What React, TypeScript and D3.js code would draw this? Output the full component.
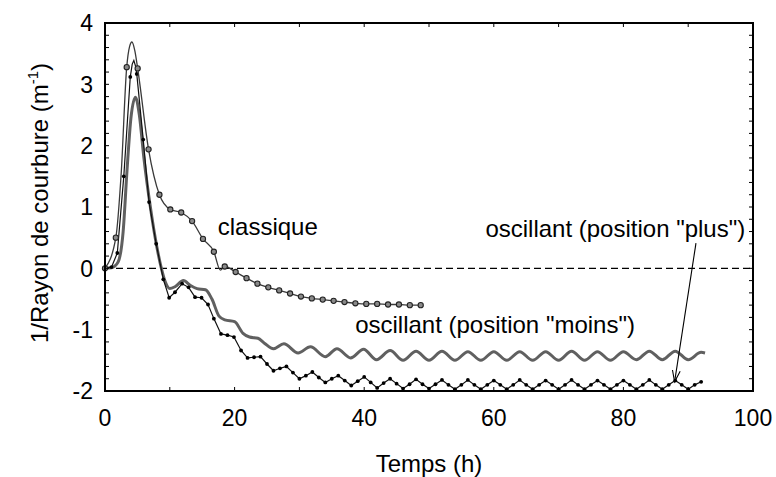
import { useEffect } from "react";
import * as d3 from "d3";

// "classique" : marqueurs ronds (t, 1/R)
const classiqueMarks: [number, number][] = [
  [0, 0], [1.67, 0.5], [3.35, 3.28], [5.04, 3.26], [6.72, 1.94], [8.4, 1.2],
  [10.08, 0.96], [11.76, 0.91], [13.44, 0.77], [15.12, 0.48], [16.8, 0.27],
  [18.48, 0.03], [20.16, -0.06], [21.84, -0.16], [23.52, -0.25], [25.2, -0.31],
  [26.88, -0.36], [28.56, -0.41], [30.24, -0.46], [31.92, -0.49], [33.6, -0.51],
  [35.28, -0.53], [36.96, -0.55], [38.64, -0.57], [40.32, -0.58], [42.0, -0.58],
  [43.68, -0.59], [45.36, -0.59], [47.04, -0.6], [48.72, -0.6],
];
// points du trace sans marqueur (sommet, petit creux)
const classiqueExtra: [number, number][] = [
  [2.5, 1.55], [3.8, 3.62], [4.15, 3.69], [4.6, 3.55], [17.8, -0.03],
];

// oscillant (position "plus") : points noirs
const plusDots: [number, number][] = [
  [0, 0], [1, 0.02], [1.9, 0.25], [2.9, 1.5], [3.9, 3.12], [4.9, 3.17],
  [5.9, 2.1], [6.8, 1.08], [7.9, 0.4], [9.0, -0.18], [9.9, -0.48], [10.8, -0.39],
  [11.9, -0.25], [12.9, -0.31], [13.9, -0.47], [14.9, -0.48], [15.9, -0.59],
  [16.8, -0.82], [17.9, -1.07], [18.9, -1.09], [19.9, -1.12], [21.0, -1.34],
  [22, -1.46], [23, -1.45], [24, -1.44], [25, -1.56], [26, -1.67], [27, -1.63],
  [28, -1.6], [29, -1.7], [30, -1.8], [31, -1.75], [32, -1.69], [33, -1.78],
  [34, -1.86], [35, -1.8], [36, -1.75], [37, -1.83], [38, -1.91], [39, -1.84],
  [40, -1.77], [41, -1.86], [42, -1.95], [43, -1.87], [44, -1.8], [45, -1.88],
  [46, -1.96], [47, -1.89], [48, -1.81], [49, -1.89], [50, -1.96], [51, -1.89],
  [52, -1.82], [53, -1.9], [54, -1.97], [55, -1.9], [56, -1.82], [57, -1.9],
  [58, -1.97], [59, -1.9], [60, -1.83], [61, -1.9], [62, -1.97], [63, -1.9],
  [64, -1.82], [65, -1.9], [66, -1.97], [67, -1.9], [68, -1.83], [69, -1.9],
  [70, -1.97], [71, -1.9], [72, -1.82], [73, -1.9], [74, -1.97], [75, -1.9],
  [76, -1.83], [77, -1.9], [78, -1.97], [79, -1.9], [80, -1.83], [81, -1.9],
  [82, -1.97], [83, -1.9], [84, -1.82], [85, -1.9], [86, -1.97], [87, -1.9],
  [88, -1.83], [89, -1.9], [90, -1.97], [91, -1.9], [92, -1.85],
];
const plusExtra: [number, number][] = [
  [4.2, 3.33], [4.45, 3.39], [4.7, 3.3],
];

// oscillant (position "moins") : trait gris epais
const moinsLine: [number, number][] = [
  [0, 0], [1, 0.01], [2, 0.1], [2.8, 0.6], [3.4, 1.6], [4.0, 2.45], [4.7, 2.79],
  [5.3, 2.5], [6.0, 1.8], [7.0, 1.0], [8.0, 0.35], [8.7, 0.0], [9.3, -0.22],
  [10.0, -0.33], [10.8, -0.3], [12.1, -0.2], [13.2, -0.28], [14.2, -0.33],
  [15.5, -0.35], [16.5, -0.5], [17.6, -0.78], [18.5, -0.84], [20.0, -0.87],
  [21.3, -1.06], [22.3, -1.12], [23.6, -1.14], [24.6, -1.22], [26, -1.31],
  [27.6, -1.23], [29.8, -1.38], [31.7, -1.28], [34, -1.44], [35.8, -1.31],
  [37.9, -1.46], [39.9, -1.32], [41.9, -1.49], [44, -1.34], [46, -1.5],
  [48, -1.35], [50, -1.5], [52, -1.35], [54, -1.5], [56, -1.36], [58, -1.5],
  [60, -1.36], [62, -1.5], [64, -1.36], [66, -1.5], [68, -1.36], [70, -1.5],
  [72, -1.35], [74, -1.5], [76, -1.36], [78, -1.5], [80, -1.36], [82, -1.49],
  [84, -1.35], [86, -1.49], [88, -1.35], [90, -1.49], [92, -1.37], [92.6, -1.38],
];

const xTickLabels = [0, 20, 40, 60, 80, 100];
const yTickLabels = [-2, -1, 0, 1, 2, 3, 4];

const W = 776;
const H = 477;
const FONT = "'Liberation Sans', Arial, Helvetica, sans-serif";

const byT = (a: [number, number], b: [number, number]) => a[0] - b[0];

export default function App() {
  useEffect(() => {
    document.body.style.margin = "0";
  }, []);

  const x = d3.scaleLinear().domain([0, 100]).range([105, 753]);
  const y = d3.scaleLinear().domain([-2, 4]).range([391, 23]);
  const [x0, x1] = x.range();
  const [y0, y1] = y.range();

  const smooth = d3
    .line<[number, number]>()
    .x((d) => x(d[0]))
    .y((d) => y(d[1]))
    .curve(d3.curveMonotoneX);
  const straight = d3
    .line<[number, number]>()
    .x((d) => x(d[0]))
    .y((d) => y(d[1]));

  const classiquePath = [...classiqueMarks, ...classiqueExtra].sort(byT);
  const plusPath = [...plusDots, ...plusExtra].sort(byT);

  // fleche vers la courbe "plus"
  const ax0 = x(91.2), ay0 = y(0.41);
  const ax1 = x(87.9), ay1 = y(-1.85);
  const ang = Math.atan2(ay1 - ay0, ax1 - ax0);
  const headLen = 12, spread = 0.33;
  const hA = [ax1 - headLen * Math.cos(ang - spread), ay1 - headLen * Math.sin(ang - spread)];
  const hB = [ax1 - headLen * Math.cos(ang + spread), ay1 - headLen * Math.sin(ang + spread)];

  return (
    <svg
      width={W}
      height={H}
      style={{ position: "absolute", left: 0, top: 0, background: "#fff" }}
      fontFamily={FONT}
    >
      <rect width={W} height={H} fill="#fff" />

      {/* ligne zero */}
      <line x1={x0} x2={x1} y1={y(0)} y2={y(0)} stroke="#000" strokeWidth={1.3} strokeDasharray="7,4" />

      {/* courbes */}
      <path d={smooth(moinsLine) || ""} fill="none" stroke="#606060" strokeWidth={3} />
      <path d={straight(plusPath) || ""} fill="none" stroke="#111" strokeWidth={1.2} />
      {plusDots.map((d, i) => (
        <circle key={"p" + i} cx={x(d[0])} cy={y(d[1])} r={1.9} fill="#000" />
      ))}
      <path d={smooth(classiquePath) || ""} fill="none" stroke="#3a3a3a" strokeWidth={1.3} />
      {classiqueMarks.map((d, i) => (
        <circle key={"c" + i} cx={x(d[0])} cy={y(d[1])} r={2.6} fill="#8a8a8a" stroke="#222" strokeWidth={1.1} />
      ))}

      {/* cadre et graduations */}
      <rect x={x0} y={y1} width={x1 - x0} height={y0 - y1} fill="none" stroke="#000" strokeWidth={2} />
      {x.ticks(10).map((t) => (
        <g key={"xt" + t}>
          <line x1={x(t)} x2={x(t)} y1={y0} y2={y0 - 4} stroke="#000" />
          <line x1={x(t)} x2={x(t)} y1={y1} y2={y1 + 4} stroke="#000" />
        </g>
      ))}
      {y.ticks(24).map((t) => (
        <g key={"yt" + t}>
          <line x1={x0} x2={x0 + 4} y1={y(t)} y2={y(t)} stroke="#000" />
          <line x1={x1} x2={x1 - 4} y1={y(t)} y2={y(t)} stroke="#000" />
        </g>
      ))}

      {xTickLabels.map((t) => (
        <text key={"xl" + t} x={x(t)} y={426} textAnchor="middle" fontSize={23}>
          {t}
        </text>
      ))}
      {yTickLabels.map((t) => (
        <text key={"yl" + t} x={93} y={y(t)} dy="0.36em" textAnchor="end" fontSize={23}>
          {t}
        </text>
      ))}

      <text x={(x0 + x1) / 2} y={472} textAnchor="middle" fontSize={24}>
        Temps (h)
      </text>
      <text transform={`translate(48, ${(y0 + y1) / 2 - 4}) rotate(-90)`} textAnchor="middle" fontSize={24}>
        1/Rayon de courbure (m
        <tspan fontSize={15} dy={-10}>-1</tspan>
        <tspan dy={10}>)</tspan>
      </text>

      {/* annotations */}
      <text x={x(17.4)} y={235} fontSize={24}>classique</text>
      <text x={x(98.8)} y={236.5} fontSize={24} textAnchor="end">oscillant (position "plus")</text>
      <text x={x(38.6)} y={333} fontSize={24}>oscillant (position "moins")</text>

      <line x1={ax0} y1={ay0} x2={ax1} y2={ay1} stroke="#000" strokeWidth={1.1} />
      <polyline
        points={`${hA[0]},${hA[1]} ${ax1},${ay1} ${hB[0]},${hB[1]}`}
        fill="none"
        stroke="#000"
        strokeWidth={1.1}
      />
    </svg>
  );
}
